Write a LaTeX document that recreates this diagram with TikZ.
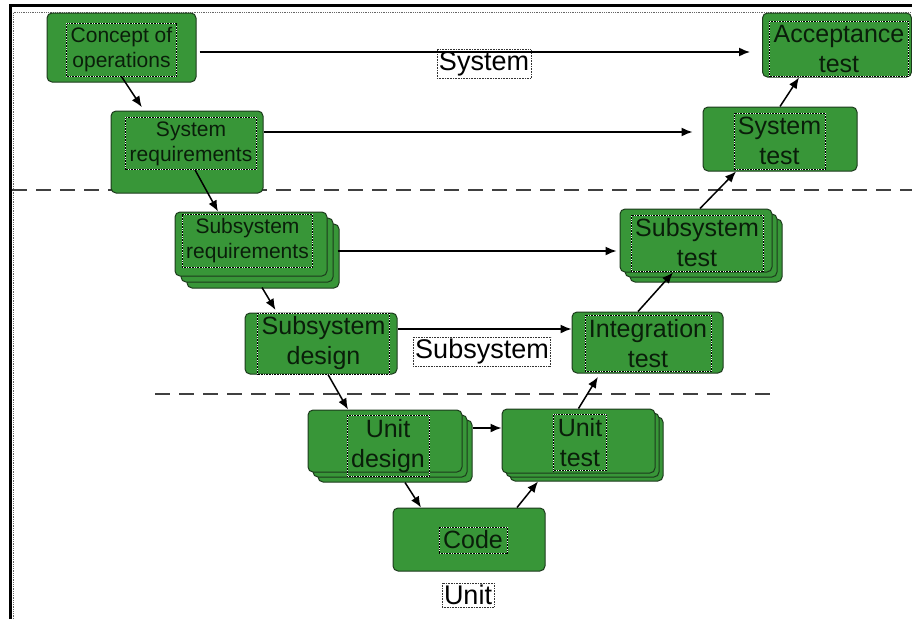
\documentclass[tikz,border=0pt]{standalone}
\usepackage{fontspec}
\setmainfont{Liberation Sans}
\usetikzlibrary{arrows.meta,shadows}
\definecolor{boxgreen}{RGB}{56,150,56}
\definecolor{boxedge}{RGB}{28,58,28}
\definecolor{boxtext}{RGB}{10,30,10}
\newcommand\boxfont{\fontsize{25}{30}\selectfont}
\newcommand\smallboxfont{\fontsize{21}{25}\selectfont}
\newcommand\lvlfont{\fontsize{27}{32}\selectfont}

\begin{document}
\begin{tikzpicture}[x=1pt, y=-1pt,
  blk/.style={rectangle, draw=boxedge, line width=1pt, rounded corners=5pt, fill=boxgreen},
  stack/.style 2 args={blk,
    copy shadow={shadow xshift=#2, shadow yshift=-#2, fill=boxgreen, draw=boxedge},
    copy shadow={shadow xshift=#1, shadow yshift=-#1, fill=boxgreen, draw=boxedge}},
  txt/.style={draw=black, densely dotted, line width=0.6pt,
    preaction={draw=white, solid, line width=0.6pt},
    inner sep=4pt, align=center, text=boxtext, font=\boxfont},
  lbl/.style={draw=black!80, densely dotted, line width=0.6pt, inner sep=2pt, font=\lvlfont},
  arr/.style={-{Latex[length=11pt,width=9pt]}, line width=1.5pt, black},
  lvl/.style={line width=2.2pt, black!75, dash pattern=on 15pt off 9pt}
]
\useasboundingbox (0,0) rectangle (912,619);

% frame
\draw[line width=3pt] (10,619) -- (10,5) -- (912,5);
\draw[densely dotted, black!60, line width=0.8pt] (13.5,619) -- (13.5,12.5) -- (912,12.5);

% level borders
\coordinate (top-l) at (12,190);
\coordinate (top-r) at (912,190);
\coordinate (low-l) at (155,394);
\coordinate (low-r) at (775,394);
\draw[lvl] (top-l) -- (top-r);
\draw[lvl] (low-l) -- (low-r);

% left leg
\node[blk, minimum width=149pt, minimum height=69pt] (concept) at (121.5,47.5) {};
\node[txt, font=\smallboxfont] (concept-t) at (121.5,50) {Concept of\\operations};
\node[blk, minimum width=152pt, minimum height=82pt] (sysreq) at (187,152) {};
\node[txt, font=\smallboxfont] (sysreq-t) at (191,143.5) {System\\requirements};
\node[stack={6pt}{12pt}, minimum width=152pt, minimum height=64pt] (subreq) at (251,244) {};
\node[txt, font=\smallboxfont] (subreq-t) at (247.5,241) {Subsystem\\requirements};
\node[blk, minimum width=152pt, minimum height=61pt] (subdes) at (321,343.5) {};
\node[txt] (subdes-t) at (323.5,343.5) {Subsystem\\design};
\node[stack={5pt}{10pt}, minimum width=154pt, minimum height=62pt] (unitdes) at (385,441) {};
\node[txt] (unitdes-t) at (388,446) {Unit\\design};

% bottom
\node[blk, minimum width=152pt, minimum height=63pt] (code) at (469,539.5) {};
\node[txt] (code-t) at (473,540) {Code};

% right leg
\node[stack={4pt}{8pt}, minimum width=153pt, minimum height=64pt] (unittest) at (578.5,441) {};
\node[txt] (unittest-t) at (580,442.5) {Unit\\test};
\node[blk, minimum width=151pt, minimum height=61pt] (integ) at (647.5,342.5) {};
\node[txt] (integ-t) at (648,343.5) {Integration\\test};
\node[stack={5pt}{10pt}, minimum width=152pt, minimum height=63pt] (subtest) at (696,240.5) {};
\node[txt] (subtest-t) at (697,243) {Subsystem\\test};
\node[blk, minimum width=154pt, minimum height=64pt] (systest) at (780,139) {};
\node[txt] (systest-t) at (779.5,141) {System\\test};
\node[blk, minimum width=149pt, minimum height=64pt] (accept) at (837,45) {};
\node[txt] (accept-t) at (839,49) {Acceptance\\test};

% level labels
\node[lbl] (system) at (484,64) {System};
\node[lbl] (subsystem) at (482,352) {Subsystem};
\node[lbl] (unit) at (468,595) {Unit};

% down the V
\draw[arr, shorten >=4pt] (concept-t.south) -- ([xshift=-43pt]sysreq.north);
\draw[arr] ([xshift=4pt]sysreq-t.south) -- ([xshift=-33pt]subreq.north);
\draw[arr, shorten >=3pt] ([xshift=11pt,yshift=-11pt]subreq.south) -- ([xshift=-44pt]subdes.north);
\draw[arr] ([xshift=7pt]subdes.south) -- ([xshift=-37pt]unitdes.north);
\draw[arr] ([xshift=20pt,yshift=-10pt]unitdes.south) -- ([xshift=-48pt]code.north);

% up the V
\draw[arr] ([xshift=48pt]code.north) -- ([xshift=-40.5pt,yshift=-8pt]unittest.south);
\draw[arr, shorten >=4pt] (unittest.north) -- ([xshift=-47.5pt]integ.south);
\draw[arr] ([xshift=-9.5pt]integ.north) -- ([xshift=-23pt]subtest.south);
\draw[arr] ([xshift=4pt]subtest.north) -- ([xshift=-44pt]systest.south);
\draw[arr] (systest.north) -- ([xshift=-38pt]accept.south);

% across
\draw[arr, shorten <=3pt, shorten >=12pt] ([yshift=-4.5pt]concept.east) coordinate (a1) -- (a1 -| accept.west);
\draw[arr, shorten >=10pt] ([yshift=20pt]sysreq.east) coordinate (a2) -- (a2 -| systest.west);
\draw[arr, shorten >=3pt] ([xshift=10pt,yshift=-7pt]subreq.east) coordinate (a3) -- (a3 -| subtest.west);
\draw[arr] ([yshift=14.5pt]subdes.east) coordinate (a4) -- (a4 -| integ.west);
\draw[arr] ([xshift=10pt,yshift=13pt]unitdes.east) coordinate (a5) -- (a5 -| unittest.west);
\end{tikzpicture}
\end{document}
